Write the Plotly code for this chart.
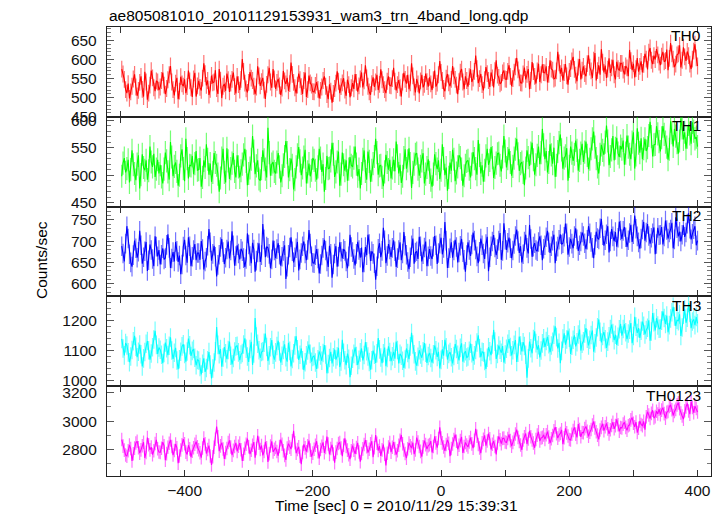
import plotly.graph_objects as go
from plotly.subplots import make_subplots

# ---- data (2 s bins) ----
T_START = -498
BIN_SEC = 2

TH0 = [
 575,562, 548,521, 512,537, 498,515, 530,549, 561,528, 505,519, 540,556, 522,503, 568,541, 495,512, 533,571, 552,526, 517,544, 541,520,
 528,545, 566,533, 509,524, 547,560, 583,541, 521,506, 538,552, 496,517, 555,536, 530,548, 512,529, 571,544, 526,502, 549,565, 503,531,
 544,527, 519,551, 590,563, 532,545, 507,522, 558,539, 541,572, 524,510, 575,546, 499,530, 536,518, 563,547, 515,538, 548,566, 529,511,
 556,534, 520,548, 601,569, 538,523, 514,540, 567,551, 545,530, 509,528, 582,557, 531,542, 552,520, 497,535, 560,578, 541,526, 575,549,
 523,540, 549,531, 507,525, 570,544, 536,552, 518,537, 592,561, 540,526, 511,533, 563,547, 529,510, 545,566, 502,521, 558,539, 533,516,
 515,532, 541,522, 498,519, 528,545, 556,530, 508,496, 535,517, 487,511, 524,538, 569,543, 512,529, 539,551, 520,505, 547,534, 501,526,
 538,523, 562,540, 516,531, 549,566, 527,544, 585,552, 530,515, 508,537, 553,528, 541,560, 520,535, 574,547, 534,521, 512,543, 556,532,
 531,550, 578,543, 519,534, 546,526, 503,541, 565,548, 537,560, 522,539, 590,557, 528,514, 549,536, 511,544, 560,527, 535,563, 542,529,
 553,536, 520,547, 571,529, 538,560, 596,566, 545,524, 517,551, 562,539, 530,548, 583,557, 548,533, 509,542, 567,575, 541,522, 556,545,
 529,555, 574,541, 551,569, 610,576, 538,550, 562,534, 519,547, 580,563, 545,528, 566,552, 527,571, 598,559, 553,536, 540,565, 571,549,
 548,569, 585,556, 530,550, 567,581, 604,573, 552,539, 538,562, 579,548, 561,575, 522,545, 593,568, 556,537, 570,589, 541,560, 587,566,
 565,582, 540,561, 598,575, 572,549, 551,570, 620,591, 563,578, 545,566, 588,557, 534,569, 576,596, 607,574, 559,543, 580,601, 548,572,
 582,563, 556,589, 611,580, 570,552, 598,617, 545,571, 585,560, 627,593, 566,584, 552,575, 603,565, 578,599, 560,548, 594,576, 571,590,
 590,572, 561,583, 578,556, 625,597, 572,589, 553,576, 604,568, 582,595, 566,587, 615,601, 574,619, 630,598, 588,610, 600,627, 612,593,
 585,609, 620,594, 597,626, 572,603, 643,615, 601,580, 588,612, 615,637, 579,598, 632,607, 596,621, 610,588, 575,601, 622,640, 604,583,
]
TH1 = [
 498,522, 531,505, 512,528, 487,510, 545,519, 503,491, 520,536, 476,501, 538,514, 509,527, 492,508, 552,524, 515,539, 497,511, 528,503,
 519,497, 485,511, 541,526, 506,492, 560,533, 498,516, 523,507, 481,500, 535,547, 512,489, 566,530, 494,518, 517,535, 502,521, 544,509,
 510,531, 479,496, 527,514, 556,529, 501,521, 488,505, 540,523, 518,502, 470,495, 531,548, 505,487, 549,526, 493,512, 522,540, 507,496,
 536,515, 496,508, 520,537, 548,525, 482,503, 513,529, 571,544, 502,517, 527,493, 490,512, 545,528, 511,496, 586,541, 499,520, 524,507,
 503,524, 540,515, 487,499, 519,534, 562,541, 496,510, 530,518, 474,492, 515,537, 551,526, 500,513, 533,546, 485,506, 521,498, 509,531,
 527,509, 492,515, 548,531, 506,520, 470,494, 535,512, 513,526, 559,538, 497,506, 524,543, 481,502, 541,519, 508,527, 490,511, 533,518,
 515,531, 552,520, 498,511, 476,503, 529,545, 507,492, 543,525, 488,509, 521,534, 566,541, 501,517, 518,496, 480,506, 537,523, 510,528,
 494,513, 528,507, 561,535, 503,519, 486,498, 532,547, 512,526, 549,521, 477,505, 520,538, 540,511, 499,516, 526,540, 485,502, 514,529,
 505,491, 479,502, 538,521, 511,527, 493,509, 556,530, 500,514, 472,496, 523,508, 546,529, 489,504, 515,536, 532,511, 481,499, 518,525,
 527,511, 496,520, 542,530, 512,501, 564,536, 503,518, 488,509, 535,548, 519,527, 551,532, 495,514, 522,539, 540,518, 507,533, 571,544,
 514,530, 548,523, 499,516, 531,547, 566,539, 508,521, 524,505, 482,513, 545,532, 517,540, 559,528, 501,519, 536,552, 520,541, 584,555,
 529,544, 505,523, 556,537, 521,550, 497,518, 543,559, 574,546, 512,531, 535,549, 490,516, 552,540, 526,538, 563,545, 508,527, 540,557,
 524,542, 561,536, 511,529, 548,566, 579,551, 530,515, 503,538, 555,545, 537,560, 590,562, 518,534, 546,571, 527,549, 568,540, 533,553,
 547,563, 519,540, 572,551, 538,529, 560,578, 512,537, 585,558, 541,567, 529,548, 566,544, 550,572, 597,570, 534,555, 556,589, 575,561,
 543,568, 589,574, 560,551, 528,547, 598,577, 552,584, 571,559, 539,562, 603,586, 565,578, 548,569, 592,575, 557,596, 580,566, 569,552,
]
TH2 = [
 688,671, 652,694, 735,706, 669,650, 640,667, 701,683, 661,675, 724,690, 647,662, 676,698, 630,655, 692,679, 658,641, 711,687, 664,679,
 645,668, 683,657, 660,691, 716,684, 637,659, 674,652, 698,677, 651,666, 622,645, 687,703, 666,649, 709,688, 641,663, 679,693, 655,672,
 672,656, 700,681, 633,652, 661,689, 728,697, 654,670, 689,663, 617,644, 668,686, 705,674, 646,661, 680,699, 659,678, 723,690, 642,665,
 690,671, 657,682, 676,660, 639,658, 718,692, 665,648, 696,680, 628,654, 673,695, 651,667, 740,704, 662,687, 684,670, 636,657, 701,678,
 660,681, 695,668, 642,663, 677,690, 611,640, 668,685, 709,676, 650,662, 683,698, 631,657, 672,688, 699,671, 655,679, 726,694, 664,649,
 648,667, 681,659, 624,646, 666,684, 703,678, 652,639, 689,670, 614,645, 671,688, 640,663, 697,675, 659,681, 677,652, 636,664, 715,686,
 674,658, 643,670, 698,679, 661,685, 627,650, 686,667, 715,693, 653,676, 670,648, 609,641, 682,695, 662,677, 731,702, 648,665, 693,680,
 663,684, 702,676, 639,660, 679,697, 655,671, 721,689, 668,651, 634,662, 690,706, 647,673, 676,658, 710,688, 652,669, 685,699, 641,664,
 681,665, 658,687, 712,690, 646,672, 694,708, 669,684, 745,701, 637,660, 683,697, 661,678, 703,686, 650,673, 689,705, 674,656, 628,667,
 697,679, 665,692, 720,701, 680,664, 648,675, 706,690, 671,658, 693,710, 629,662, 688,699, 714,685, 667,681, 701,719, 656,677, 742,703,
 679,696, 708,683, 660,678, 693,712, 727,700, 672,688, 650,669, 699,715, 684,671, 738,705, 663,687, 695,679, 676,698, 711,690, 655,682,
 690,709, 724,697, 672,688, 701,715, 648,676, 687,703, 716,692, 695,710, 741,718, 668,686, 705,694, 683,712, 730,704, 677,690, 699,720,
 712,695, 681,703, 735,718, 698,684, 660,691, 722,707, 704,730, 752,714, 689,702, 716,735, 673,699, 728,711, 700,721, 687,708, 746,725,
 705,724, 733,709, 686,702, 719,738, 698,716, 760,729, 711,697, 682,706, 727,745, 701,720, 740,712, 694,708, 718,732, 669,693, 731,714,
 715,733, 692,711, 748,726, 706,720, 727,743, 683,704, 756,730, 711,722, 699,715, 737,710, 720,741, 765,729, 704,717, 728,735, 690,701,
]
TH3 = [
 1140,1108, 1085,1126, 1118,1095, 1062,1081, 1103,1132, 1150,1114, 1079,1097, 1121,1089, 1048,1075, 1096,1124, 1133,1102, 1071,1091, 1112,1138, 1167,1120, 1090,1111,
 1104,1087, 1059,1093, 1128,1109, 1086,1117, 1145,1101, 1073,1094, 1110,1068, 1039,1072, 1097,1115, 1122,1090, 1064,1098, 1141,1119, 1083,1100, 1106,1077, 1052,1070,
 1068,1046, 1021,1057, 1075,1030, 1043,1069, 1096,1054, 1008,1041, 1061,1099, 1180,1120, 1089,1106, 1047,1078, 1113,1092, 1072,1103, 1131,1084, 1055,1076, 1098,1115,
 1117,1095, 1069,1088, 1093,1121, 1142,1107, 1081,1063, 1106,1130, 1053,1091, 1210,1148, 1124,1102, 1077,1096, 1099,1127, 1158,1113, 1066,1085, 1112,1136, 1087,1071,
 1095,1116, 1134,1098, 1061,1084, 1103,1122, 1079,1064, 1127,1100, 1048,1073, 1092,1118, 1149,1105, 1070,1087, 1108,1069, 1036,1062, 1085,1101, 1121,1090, 1064,1080,
 1083,1061, 1040,1072, 1098,1085, 1067,1093, 1119,1088, 1025,1056, 1076,1097, 1058,1079, 1104,1071, 1082,1110, 1046,1065, 1137,1094, 1069,1052, 1091,1074, 1012,1050,
 1074,1090, 1112,1083, 1053,1070, 1095,1108, 1068,1086, 1129,1099, 1081,1063, 1037,1069, 1101,1087, 1060,1092, 1143,1105, 1078,1059, 1092,1111, 1049,1076, 1115,1096,
 1066,1082, 1097,1074, 1131,1103, 1058,1090, 1084,1067, 1043,1071, 1108,1093, 1072,1115, 1160,1121, 1089,1065, 1051,1080, 1102,1088, 1077,1099, 1126,1094, 1060,1083,
 1093,1076, 1061,1089, 1118,1102, 1080,1097, 1041,1070, 1105,1084, 1137,1112, 1071,1090, 1096,1079, 1058,1083, 1123,1106, 1087,1068, 1110,1125, 1064,1091, 1099,1078,
 1081,1100, 1124,1092, 1067,1085, 1103,1128, 1152,1109, 1079,1097, 1095,1066, 1040,1077, 1112,1099, 1086,1121, 1170,1131, 1073,1090, 1118,1104, 1094,1116, 1061,1088,
 1107,1124, 1139,1113, 1085,1102, 1120,1136, 1063,1094, 1148,1118, 1098,1129, 1116,1087, 1010,1075, 1131,1109, 1092,1140, 1165,1126, 1104,1119, 1078,1101, 1125,1142,
 1113,1133, 1147,1122, 1096,1118, 1130,1154, 1182,1146, 1108,1127, 1059,1100, 1141,1159, 1121,1138, 1168,1144, 1090,1117, 1137,1152, 1115,1129, 1155,1171, 1101,1124,
 1132,1158, 1176,1141, 1118,1137, 1153,1168, 1097,1125, 1145,1179, 1205,1164, 1128,1150, 1163,1139, 1110,1131, 1149,1173, 1188,1160, 1136,1154, 1120,1147, 1172,1190,
 1151,1173, 1189,1162, 1139,1158, 1171,1193, 1126,1150, 1214,1181, 1160,1176, 1143,1167, 1198,1184, 1155,1170, 1177,1202, 1134,1165, 1226,1196, 1168,1209, 1185,1174,
 1175,1201, 1232,1210, 1190,1218, 1162,1186, 1208,1229, 1247,1215, 1183,1204, 1199,1222, 1150,1178, 1221,1239, 1194,1211, 1260,1227, 1176,1198, 1205,1186, 1213,1192,
]
TH0123 = [
 2870,2823, 2795,2761, 2752,2790, 2831,2806, 2718,2769, 2809,2845, 2858,2812, 2774,2797, 2826,2851, 2740,2779, 2884,2833, 2797,2816, 2763,2790, 2842,2868, 2805,2782,
 2779,2808, 2851,2826, 2724,2770, 2815,2843, 2867,2821, 2760,2792, 2838,2811, 2703,2754, 2796,2832, 2873,2840, 2781,2765, 2829,2804, 2746,2787, 2812,2836, 2855,2818,
 2798,2776, 2742,2810, 2880,2839, 2771,2800, 2827,2754, 2690,2748, 2815,2872, 2961,2890, 2788,2825, 2847,2803, 2733,2778, 2806,2849, 2864,2817, 2759,2793, 2821,2846,
 2786,2822, 2845,2798, 2719,2766, 2808,2837, 2876,2819, 2767,2794, 2830,2852, 2741,2806, 2897,2843, 2799,2828, 2758,2785, 2853,2812, 2711,2770, 2824,2857, 2782,2801,
 2813,2785, 2755,2820, 2869,2837, 2790,2758, 2726,2809, 2841,2816, 2802,2861, 2932,2847, 2773,2800, 2818,2752, 2695,2779, 2836,2811, 2784,2826, 2862,2795, 2749,2774,
 2801,2830, 2858,2784, 2737,2799, 2822,2850, 2776,2814, 2890,2838, 2764,2806, 2833,2768, 2706,2781, 2807,2842, 2849,2810, 2753,2829, 2878,2821, 2795,2762, 2731,2790,
 2826,2794, 2769,2813, 2847,2782, 2713,2771, 2804,2835, 2866,2819, 2778,2801, 2839,2858, 2745,2812, 2901,2844, 2792,2823, 2754,2797, 2835,2766, 2687,2773, 2817,2849,
 2781,2815, 2852,2807, 2763,2790, 2829,2864, 2902,2840, 2796,2771, 2738,2805, 2845,2826, 2810,2848, 2767,2796, 2883,2852, 2821,2786, 2749,2818, 2862,2834, 2803,2827,
 2834,2859, 2778,2821, 2893,2846, 2812,2877, 2956,2880, 2846,2817, 2790,2835, 2867,2843, 2752,2806, 2838,2869, 2905,2858, 2801,2829, 2862,2888, 2775,2820, 2849,2831,
 2817,2852, 2884,2839, 2809,2864, 2946,2893, 2835,2810, 2773,2847, 2871,2899, 2826,2860, 2912,2875, 2799,2836, 2858,2821, 2765,2845, 2892,2868, 2841,2878, 2880,2853,
 2849,2877, 2906,2862, 2823,2850, 2873,2909, 2940,2884, 2856,2831, 2797,2866, 2889,2912, 2838,2874, 2931,2890, 2866,2845, 2812,2870, 2901,2925, 2859,2881, 2885,2903,
 2871,2904, 2926,2887, 2845,2876, 2898,2932, 2958,2911, 2880,2902, 2913,2938, 2837,2883, 2949,2917, 2895,2870, 2866,2907, 2934,2956, 2908,2885, 2979,2941, 2889,2920,
 2918,2947, 2962,2929, 2893,2922, 2941,2973, 2997,2952, 2925,2901, 2871,2937, 2956,2981, 2933,2960, 2984,2945, 2910,2939, 2969,2992, 2946,2968, 3012,2975, 2928,2955,
 2951,2979, 2992,2956, 2935,2967, 2974,3009, 3025,2985, 2960,2994, 2919,2950, 3001,2976, 2968,2998, 2940,3031, 3066,3043, 3018,3055, 3077,3022, 3032,3070, 3051,3085,
 3046,3078, 3095,3053, 3021,3062, 3068,3104, 3112,3081, 3040,3069, 3083,3115, 3129,3088, 3057,3036, 3014,3073, 3101,3125, 3072,3049, 3138,3097, 3060,3106, 3090,3064,
]

SERIES_NAMES = ["TH0", "TH1", "TH2", "TH3", "TH0123"]
SERIES_VALUES = [TH0, TH1, TH2, TH3, TH0123]
SERIES_ERRORS = [22, 21, 23, 31, 48]
COLORS = ["#ff0000", "#00ff00", "#0000ff", "#00ffff", "#ff00ff"]
ERR_COLORS = ["rgba(255,0,0,0.55)", "rgba(0,255,0,0.55)", "rgba(0,0,255,0.55)",
              "rgba(0,255,255,0.55)", "rgba(255,0,255,0.55)"]
Y_RANGES = [[450, 685], [443, 606], [570, 781], [982, 1282], [2612, 3247]]
Y_DTICK = [50, 50, 50, 100, 200]
Y_MINOR = [10, 10, 10, 20, 100]
X_RANGE = [-521, 421]

TITLE = "ae805081010_20101129153931_wam3_trn_4band_long.qdp"
X_TITLE = "Time [sec] 0 = 2010/11/29 15:39:31"
Y_TITLE = "Counts/sec"

times = [T_START + BIN_SEC * i for i in range(len(TH0))]

FONT = "Liberation Sans, Arial, sans-serif"
# page body has an 8px margin: figure sits at (8, 8) in the 723x516 window
OFF = 8
W, H = 723 - OFF, 516 - OFF
# plot area in window pixels: x 107..711, y 27..476
PX0, PX1, PY0, PY1 = 107, 711, 27, 476
PW, PH = PX1 - PX0, PY1 - PY0


def px(x):
    return (x - PX0) / PW


def py(y):
    return (PY1 - y) / PH


fig = make_subplots(rows=5, cols=1, shared_xaxes=True, vertical_spacing=0)

for k, (name, vals, err) in enumerate(zip(SERIES_NAMES, SERIES_VALUES, SERIES_ERRORS)):
    fig.add_trace(go.Scatter(
        x=times, y=vals, mode="lines", name=name,
        line=dict(color=COLORS[k], width=1.1),
        error_y=dict(type="constant", value=err, color=ERR_COLORS[k], thickness=1.2, width=0),
        showlegend=False, hoverinfo="skip",
    ), row=k + 1, col=1)

    fig.update_yaxes(
        range=Y_RANGES[k], dtick=Y_DTICK[k], tick0=0,
        ticks="inside", ticklen=7, tickcolor="#555", tickwidth=1,
        minor=dict(dtick=Y_MINOR[k], ticks="inside", ticklen=4, tickcolor="#777"),
        showline=True, linecolor="#222", linewidth=1.3, mirror="ticks",
        showgrid=False, zeroline=False,
        tickfont=dict(family=FONT, size=15.5, color="#111"),
        ticklabelstandoff=6,
        row=k + 1, col=1)
    fig.update_xaxes(
        range=X_RANGE, dtick=200, tick0=0,
        ticks="inside", ticklen=6, tickcolor="#333", tickwidth=1,
        minor=dict(dtick=100, ticks="inside", ticklen=6, tickcolor="#333"),
        showline=True, linecolor="#222", linewidth=1.3, mirror="ticks",
        showgrid=False, zeroline=False,
        tickfont=dict(family=FONT, size=15.5, color="#111"),
        showticklabels=(k == 4),
        row=k + 1, col=1)

    top_px = PY0 + PH * k / 5.0
    fig.add_annotation(
        xref="paper", yref="paper", x=px(703), y=py(top_px + 9),
        xanchor="right", yanchor="middle", showarrow=False,
        text=name, font=dict(family=FONT, size=15.5, color="#000"))

fig.add_annotation(xref="paper", yref="paper", x=0, y=py(15),
                   xanchor="left", yanchor="middle", showarrow=False, text=TITLE,
                   font=dict(family=FONT, size=15.5, color="#000"))
fig.add_annotation(xref="paper", yref="paper", x=px(396.5), y=py(506),
                   xanchor="center", yanchor="middle", showarrow=False, text=X_TITLE,
                   font=dict(family=FONT, size=15.5, color="#000"))
fig.add_annotation(xref="paper", yref="paper", x=px(41), y=py(260),
                   xanchor="center", yanchor="middle", showarrow=False, text=Y_TITLE,
                   textangle=-90, font=dict(family=FONT, size=15.5, color="#000"))

fig.update_layout(
    width=W, height=H,
    margin=dict(l=PX0 - OFF, r=723 - PX1, t=PY0 - OFF, b=516 - PY1, pad=0),
    paper_bgcolor="white", plot_bgcolor="white",
    showlegend=False,
)

fig.write_html("out.html")
